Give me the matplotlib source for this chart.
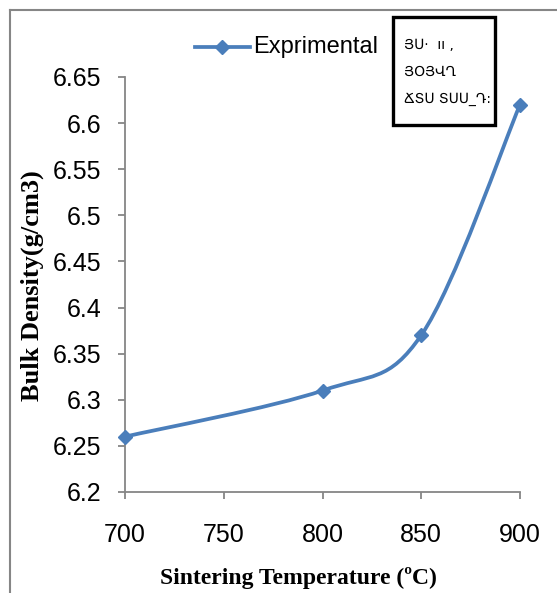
import matplotlib.pyplot as plt
from matplotlib.path import Path
from matplotlib.patches import PathPatch, Rectangle
from matplotlib.lines import Line2D

temps = [700, 800, 850, 900]
density = [6.26, 6.31, 6.37, 6.62]
xticks = [700, 750, 800, 850, 900]
yticks = [6.2, 6.25, 6.3, 6.35, 6.4, 6.45, 6.5, 6.55, 6.6, 6.65]
ytick_labels = ['6.2', '6.25', '6.3', '6.35', '6.4', '6.45', '6.5',
                '6.55', '6.6', '6.65']
box_lines = ["ՅՍ·  ıı ,", "ՅՕՅՎՂ", "ՃՏՍ ՏՍՍ_Դ:"]

blue = '#4a7ebb'
gray = '#868686'

fig = plt.figure(figsize=(5.57, 5.93), dpi=100)
ax = fig.add_axes([125/557, 1 - 492/593, 395/557, 415/593])


def smooth_path(xs, ys):
    # excel-style smoothed line: bezier segments through the points
    pts = list(zip(xs, ys))
    verts = [pts[0]]
    codes = [Path.MOVETO]
    n = len(pts)
    for i in range(n - 1):
        p0 = pts[i - 1] if i > 0 else pts[i]
        p1 = pts[i]
        p2 = pts[i + 1]
        p3 = pts[i + 2] if i + 2 < n else pts[i + 1]
        c1 = (p1[0] + (p2[0] - p0[0]) / 6, p1[1] + (p2[1] - p0[1]) / 6)
        c2 = (p2[0] - (p3[0] - p1[0]) / 6, p2[1] - (p3[1] - p1[1]) / 6)
        verts += [c1, c2, p2]
        codes += [Path.CURVE4] * 3
    return Path(verts, codes)


ax.add_patch(PathPatch(smooth_path(temps, density), fill=False,
                       edgecolor=blue, lw=2.7, capstyle='round', zorder=3))
ax.plot(temps, density, linestyle='none', marker='D', ms=7.5,
        color=blue, clip_on=False, zorder=4)

ax.set_xlim(700, 900)
ax.set_ylim(6.2, 6.65)
ax.set_xticks(xticks)
ax.set_yticks(yticks)
ax.set_xticklabels([str(t) for t in xticks])
ax.set_yticklabels(ytick_labels)
for s in ['top', 'right']:
    ax.spines[s].set_visible(False)
for s in ['left', 'bottom']:
    ax.spines[s].set_color(gray)
    ax.spines[s].set_linewidth(1.3)
ax.tick_params(axis='both', direction='out', length=5, width=1.3, color=gray,
               labelsize=18, labelcolor='black')
ax.tick_params(axis='x', pad=17)
ax.tick_params(axis='y', pad=12)
for lab in ax.get_xticklabels() + ax.get_yticklabels():
    lab.set_family('Liberation Sans')

fig.text(32/557, 1 - 286/593, 'Bulk Density(g/cm3)', rotation=90,
         ha='center', va='center', family='Liberation Serif',
         weight='bold', fontsize=19)
fig.text(298/557, 1 - 578/593, 'Sintering Temperature (ºC)', ha='center',
         va='center', family='Liberation Serif', weight='bold', fontsize=17)

# legend
fig.add_artist(Line2D([195/557, 250/557], [1 - 47/593, 1 - 47/593],
                      color=blue, lw=2.7))
fig.add_artist(Line2D([222/557], [1 - 47/593], color=blue, marker='D',
                      ms=7.5))
fig.text(253/557, 1 - 47/593, 'Exprimental', ha='left', va='center',
         family='Liberation Sans', fontsize=17)

# outer frame (left and top edges only)
fig.add_artist(Line2D([10/557, 10/557], [0, 1 - 10/593], color=gray, lw=1.5))
fig.add_artist(Line2D([10/557, 1], [1 - 10/593, 1 - 10/593], color=gray,
                      lw=1.5))

# small box with garbled text
fig.add_artist(Rectangle((393/557, 1 - 125/593), 102/557, 108/593,
                         transform=fig.transFigure, fill=True,
                         facecolor='white', edgecolor='black', lw=2.4,
                         zorder=5))
for i, t in enumerate(box_lines):
    fig.text(404/557, 1 - (45 + 27 * i)/593, t, ha='left', va='center',
             family='DejaVu Sans', fontsize=10, zorder=6)

fig.savefig('out.png', dpi=100)
